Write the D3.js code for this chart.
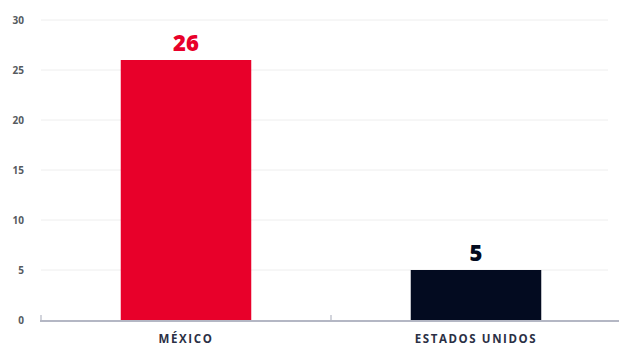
<!DOCTYPE html>
<html lang="es">
<head>
  <meta charset="UTF-8">
  <title>México vs Estados Unidos</title>
  <script src="https://cdn.jsdelivr.net/npm/d3@7"></script>
  <style>
    body { margin: 0; background: #fff; }
    svg { display: block; font-family: "Open Sans", sans-serif; }
  </style>
</head>
<body>
<div class="chart"></div>
<script>
const categories = ['MÉXICO', 'ESTADOS UNIDOS'];
const values = [26, 5];
const colors = ['#e8002a', '#030b20'];
const yTicks = [0, 5, 10, 15, 20, 25, 30];

const W = 619, H = 346;
const margin = { top: 20, right: 0, bottom: 26, left: 41 };
const plotH = H - margin.top - margin.bottom;

const svg = d3.select('.chart').append('svg').attr('width', W).attr('height', H);

const x = d3.scaleBand().domain(categories).range([margin.left, 621])
  .paddingInner(0.55).paddingOuter(0.275);
const y = d3.scaleLinear().domain([0, 30]).range([margin.top + plotH, margin.top]);

// gridlines
svg.append('g').selectAll('line').data(yTicks.filter(d => d > 0)).join('line')
  .attr('x1', margin.left).attr('x2', 608)
  .attr('y1', d => y(d)).attr('y2', d => y(d))
  .attr('stroke', '#eeeeee').attr('stroke-width', 1);

// y tick labels
svg.append('g').selectAll('text').data(yTicks).join('text')
  .attr('x', 24).attr('y', d => y(d)).attr('dy', '0.35em')
  .attr('text-anchor', 'end')
  .attr('font-size', 10).attr('font-weight', 700).attr('fill', '#555a60')
  .text(d => d);

// bars
svg.append('g').selectAll('rect').data(values).join('rect')
  .attr('x', (d, i) => x(categories[i]))
  .attr('width', x.bandwidth())
  .attr('y', d => y(d))
  .attr('height', d => y(0) - y(d))
  .attr('fill', (d, i) => colors[i]);

// value labels
svg.append('g').selectAll('text').data(values).join('text')
  .attr('x', (d, i) => x(categories[i]) + x.bandwidth() / 2)
  .attr('y', d => y(d) - 9)
  .attr('text-anchor', 'middle')
  .attr('font-size', 22).attr('font-weight', 800)
  .attr('fill', (d, i) => colors[i])
  .text(d => d);

// x axis line + ticks
const axisY = y(0) + 1;
svg.append('line').attr('x1', margin.left - 1).attr('x2', W)
  .attr('y1', axisY).attr('y2', axisY)
  .attr('stroke', '#b4b7c4').attr('stroke-width', 2);
const tickXs = [margin.left, margin.left + x.step()];
svg.append('g').selectAll('line').data(tickXs).join('line')
  .attr('x1', d => d).attr('x2', d => d)
  .attr('y1', axisY).attr('y2', axisY - 6)
  .attr('stroke', '#b4b7c4').attr('stroke-width', 1.2);

// category labels
svg.append('g').selectAll('text').data(categories).join('text')
  .attr('x', d => x(d) + x.bandwidth() / 2)
  .attr('y', 343)
  .attr('text-anchor', 'middle')
  .attr('font-size', 11.5).attr('font-weight', 700)
  .attr('letter-spacing', 1.6).attr('fill', '#2b3045')
  .text(d => d);
</script>
</body>
</html>
